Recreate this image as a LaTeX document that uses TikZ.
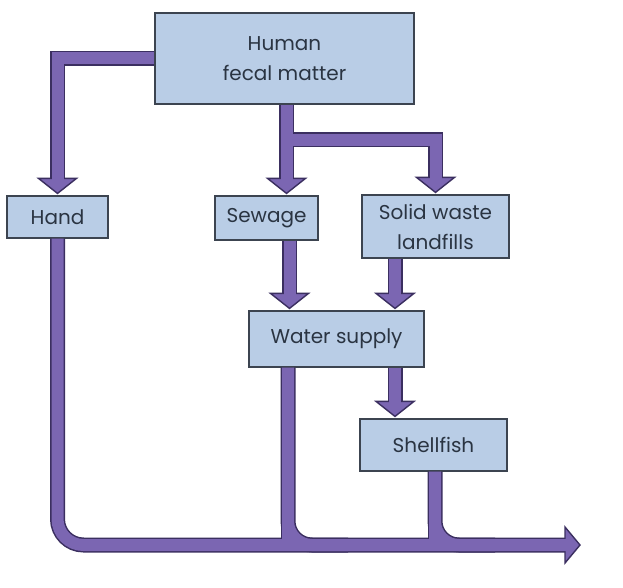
\documentclass[tikz,border=0pt]{standalone}
\usepackage{fontspec}
\setmainfont{Poppins}
\usetikzlibrary{calc}
\definecolor{boxfill}{HTML}{B9CDE6}
\definecolor{boxline}{HTML}{3C4450}
\definecolor{txt}{HTML}{2A3442}
\definecolor{flow}{HTML}{7B66B2}
\definecolor{flowline}{HTML}{3B2F60}
\newcommand\headdown[1]{\draw[headst] #1 -- ++(-19,-15) -- ++(38,0) -- cycle;}
\begin{document}
\begin{tikzpicture}[x=1pt,y=-1pt,
  box/.style={draw=boxline, line width=1.2pt, fill=boxfill, text=txt,
    font=\fontsize{20}{30}\selectfont, align=center, inner sep=0pt},
  shaftout/.style={draw=flowline, line width=15pt},
  shaftin/.style={draw=flow, line width=12pt},
  edgeleft/.style={draw=flowline, line width=9pt},
  headst/.style={fill=flow, draw=flowline, line width=1.4pt, line join=miter}]
\useasboundingbox (0,0) rectangle (623,588);
\fill[white] (0,0) rectangle (623,588);
% boxes
\node[box, minimum width=259pt, minimum height=91pt] (fecal) at (284.5,58.5) {Human\\fecal matter};
\node[box, minimum width=101pt, minimum height=42pt] (hand) at (57.5,217) {Hand};
\node[box, minimum width=103pt, minimum height=44pt] (sewage) at (266.5,218) {Sewage};
\node[box, minimum width=147pt, minimum height=63pt] (landfill) at (435.5,226.5) {Solid waste\\landfills};
\node[box, minimum width=175pt, minimum height=56pt] (water) at (336.5,339) {Water supply};
\node[box, minimum width=147pt, minimum height=52pt] (shell) at (433.5,445) {Shellfish};
% helper points
\coordinate (end) at (580,545);
\coordinate (j1) at ($(fecal.south)+(2,0)$);
\coordinate (br) at ($(j1)+(0,35)$);
\coordinate (s1) at ($(sewage.south)+(23,0)$);
\coordinate (l1) at ($(landfill.south)+(-40.5,0)$);
\coordinate (w1) at ($(water.south)+(58.5,0)$);
\coordinate (w2) at ($(water.south)+(-48.5,0)$);
\coordinate (sh1) at ($(shell.south)+(1.5,0)$);
% outlines
\draw[shaftout] (fecal.west) -| ($(hand.north)+(0,-17)$);
\draw[shaftout] (j1) -- ($(j1 |- sewage.north)+(0,-17)$);
\draw[shaftout] (br) -| ($(landfill.north)+(0,-17)$);
\draw[shaftout] (s1) -- ($(s1 |- water.north)+(0,-17)$);
\draw[shaftout] (l1) -- ($(l1 |- water.north)+(0,-17)$);
\draw[shaftout] (w1) -- ($(w1 |- shell.north)+(0,-17)$);
\draw[shaftout, rounded corners=26pt] (hand.south) -- (hand.south |- end) -- ($(end)+(-15,0)$);
\draw[shaftout, rounded corners=24pt] (w2) -- (w2 |- end) -- ++(60,0);
\draw[edgeleft] ($(w2)+(-3,0)$) -- ($(w2 |- end)+(-3,0)$);
\draw[shaftout, rounded corners=24pt] (sh1) -- (sh1 |- end) -- ++(60,0);
\draw[edgeleft] ($(sh1)+(-3,0)$) -- ($(sh1 |- end)+(-3,0)$);
% heads
\headdown{($(hand.north)+(0,-2)$)}
\headdown{($(j1 |- sewage.north)+(0,-2)$)}
\headdown{($(landfill.north)+(0,-2)$)}
\headdown{($(s1 |- water.north)+(0,-2)$)}
\headdown{($(l1 |- water.north)+(0,-2)$)}
\headdown{($(w1 |- shell.north)+(0,-2)$)}
\draw[headst] (end) -- ++(-15,-18) -- ++(0,36) -- cycle;
% inner fills
\draw[shaftin] (fecal.west) -| ($(hand.north)+(0,-15)$);
\draw[shaftin] (j1) -- ($(j1 |- sewage.north)+(0,-15)$);
\draw[shaftin] (br) -| ($(landfill.north)+(0,-15)$);
\draw[shaftin] (s1) -- ($(s1 |- water.north)+(0,-15)$);
\draw[shaftin] (l1) -- ($(l1 |- water.north)+(0,-15)$);
\draw[shaftin] (w1) -- ($(w1 |- shell.north)+(0,-15)$);
\draw[shaftin, rounded corners=26pt] (hand.south) -- (hand.south |- end) -- ($(end)+(-13,0)$);
\draw[shaftin] (w2) -- (w2 |- end);
\draw[shaftin, rounded corners=24pt] (w2) -- (w2 |- end) -- ++(60,0);
\draw[shaftin] (sh1) -- (sh1 |- end);
\draw[shaftin, rounded corners=24pt] (sh1) -- (sh1 |- end) -- ++(60,0);
\end{tikzpicture}
\end{document}
